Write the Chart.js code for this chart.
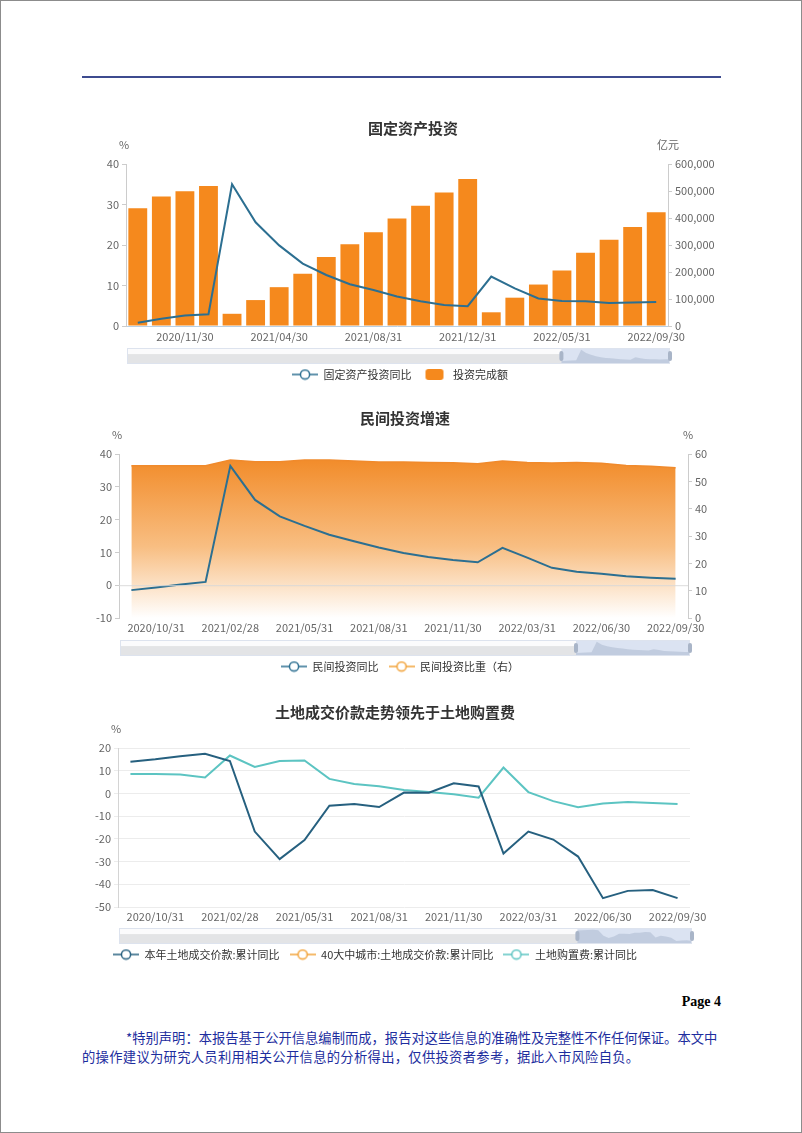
<!DOCTYPE html>
<html>
<head>
<meta charset="utf-8">
<script src="https://cdn.jsdelivr.net/npm/chart.js@4.4.1/dist/chart.umd.min.js"></script>
<style>
  html, body { margin: 0; padding: 0; background: #fff; }
  body { width: 802px; height: 1133px; position: relative; overflow: hidden; font-family: "Noto Sans CJK SC", sans-serif; }
  .frame { position: absolute; left: 0; top: 0; width: 800px; height: 1131px; border: 1px solid #8c8c8c; }
  .rule { position: absolute; left: 82px; top: 76px; width: 639px; height: 2px; background: #3d4b8f; }
  canvas { position: absolute; left: 60px; }
  .page { position: absolute; left: 600px; width: 121px; text-align: right; top: 994px; font: bold 14px "Liberation Serif", serif; color: #000; }
  .note { position: absolute; color: #1d2d9e; font-size: 13.3px; white-space: nowrap; line-height: 19px; }
</style>
</head>
<body>
<div class="frame"></div>
<div class="rule"></div>
<canvas id="c1" width="680" height="280" style="top:110px"></canvas>
<canvas id="c2" width="680" height="282" style="top:400px"></canvas>
<canvas id="c3" width="680" height="275" style="top:695px"></canvas>
<div class="page">Page 4</div>
<div class="note" style="left:126px; top:1028px;">*特别声明：本报告基于公开信息编制而成，报告对这些信息的准确性及完整性不作任何保证。本文中</div>
<div class="note" style="left:82px; top:1047px; letter-spacing:0.3px;">的操作建议为研究人员利用相关公开信息的分析得出，仅供投资者参考，据此入市风险自负。</div>
<script>
// month-end dates, same 23 periods for all three charts
const months = ["2020/09/30", "2020/10/31", "2020/11/30", "2020/12/31", "2021/02/28", "2021/03/31",
  "2021/04/30", "2021/05/31", "2021/06/30", "2021/07/31", "2021/08/31", "2021/09/30", "2021/10/31",
  "2021/11/30", "2021/12/31", "2022/02/28", "2022/03/31", "2022/04/30", "2022/05/31", "2022/06/30",
  "2022/07/31", "2022/08/31", "2022/09/30"];

// 固定资产投资
const faiYoY = [0.8, 1.8, 2.6, 2.9, 35.0, 25.6, 19.9, 15.4, 12.6, 10.3, 8.9, 7.3, 6.1, 5.2, 4.9,
  12.2, 9.3, 6.8, 6.2, 6.1, 5.7, 5.8, 5.9];
const faiAmount = [436530, 479922, 499012, 518907, 45236, 95994, 143804, 193917, 255900, 302823,
  346913, 397827, 445823, 494082, 544547, 50763, 104872, 153544, 205964, 271430, 319812, 367106, 421412];

// 民间投资增速
const privYoY = [-1.5, -0.7, 0.2, 1.0, 36.4, 26.0, 21.0, 18.1, 15.4, 13.4, 11.5, 9.8, 8.6, 7.7, 7.0,
  11.4, 8.4, 5.3, 4.1, 3.5, 2.7, 2.3, 2.0];
const privShare = [55.7, 55.7, 55.7, 55.7, 57.8, 57.2, 57.2, 57.8, 57.8, 57.4, 57.1, 57.1, 56.9, 56.8,
  56.4, 57.4, 56.9, 56.7, 56.9, 56.6, 55.8, 55.5, 55.0];

// 土地成交价款 / 土地购置费
const landDeal = [13.9, 15.0, 16.4, 17.5, 14.3, -16.8, -28.9, -20.5, -5.4, -4.7, -6.0, 0.4, 0.3, 4.5,
  3.1, -26.5, -16.8, -20.3, -27.8, -46.1, -42.9, -42.5, -46.1];
const landCity40 = [];
const landPurchase = [8.5, 8.6, 8.3, 7.0, 16.7, 11.7, 14.3, 14.5, 6.4, 4.2, 3.2, 1.5, 0.6, -0.4, -1.9,
  11.4, 0.6, -3.4, -6.1, -4.4, -3.8, -4.2, -4.7];

const ORANGE = "#f5891d";
const TEAL = "#2c6f91";
const TEAL_DARK = "#26607f";
const TEAL_LIGHT = "#5cc4c2";

Chart.defaults.font.family = '"Noto Sans CJK SC", "Noto Sans", sans-serif';
Chart.defaults.font.size = 11;
Chart.defaults.color = "#666";
Chart.defaults.animation = false;

function icon(color, kind) {
  const c = document.createElement("canvas");
  const g = c.getContext("2d");
  if (kind === "box") {
    c.width = 20; c.height = 13;
    g.fillStyle = color;
    g.beginPath();
    g.roundRect(1, 1, 18, 11, 3);
    g.fill();
  } else {
    c.width = 26; c.height = 12;
    g.strokeStyle = color;
    g.lineWidth = 1.5;
    g.beginPath(); g.moveTo(0, 6); g.lineTo(26, 6); g.stroke();
    g.fillStyle = "#fff";
    g.beginPath(); g.arc(13, 6, 4.6, 0, Math.PI * 2); g.fill(); g.stroke();
  }
  return c;
}

function legendWith(icons) {
  return {
    position: "bottom",
    labels: {
      usePointStyle: true,
      pointStyleWidth: 26,
      padding: 10,
      color: "#333",
      font: { size: 11 },
      generateLabels(chart) {
        return Chart.defaults.plugins.legend.labels.generateLabels(chart)
          .map((it, i) => ({ ...it, pointStyle: icons[i] }));
      }
    }
  };
}

// titles, axis units, dataZoom-like slider, zero line
const decor = {
  id: "decor",
  afterDatasetsDraw(chart, args, o) {
    if (!o.zeroLine) return;
    const { ctx, chartArea: a } = chart;
    const y = chart.scales.y.getPixelForValue(0);
    ctx.save();
    ctx.strokeStyle = "rgba(215,215,215,0.9)";
    ctx.lineWidth = 1;
    ctx.beginPath(); ctx.moveTo(a.left, y + 0.5); ctx.lineTo(a.right, y + 0.5); ctx.stroke();
    ctx.restore();
  },
  afterDraw(chart, args, o) {
    const { ctx, chartArea: a } = chart;
    ctx.save();
    ctx.fillStyle = "#333";
    ctx.font = 'bold 15px "Noto Sans CJK SC"';
    ctx.textAlign = "center";
    ctx.textBaseline = "middle";
    ctx.fillText(o.title, o.titleX, o.titleY);
    ctx.font = '11px "Noto Sans CJK SC"';
    ctx.fillStyle = "#666";
    if (o.unitL) ctx.fillText(o.unitL, a.left - 2, a.top - 19);
    if (o.unitR) ctx.fillText(o.unitR, a.right, a.top - 19);

    // slider
    const x0 = a.left + 1, x1 = a.right + 2, y0 = a.bottom + o.sliderGap, h = 16;
    const sx = x0 + (x1 - x0) * 0.8;
    ctx.fillStyle = "#fbfbfc";
    ctx.fillRect(x0, y0, x1 - x0, h);
    ctx.fillStyle = "#e3e4e6";
    ctx.fillRect(x0, y0 + h * 0.38, sx - x0, h * 0.62);
    const vals = chart.data.datasets[0].data;
    const lo = Math.min(...vals), hi = Math.max(...vals);
    ctx.beginPath();
    ctx.moveTo(sx, y0 + h);
    vals.forEach((v, i) => {
      const px = sx + (x1 - sx) * i / (vals.length - 1);
      const py = y0 + h - 3 - (v - lo) / (hi - lo) * h * 0.7;
      ctx.lineTo(px, py);
    });
    ctx.lineTo(x1, y0 + h);
    ctx.closePath();
    ctx.fillStyle = "rgba(150,160,178,0.35)";
    ctx.fill();
    ctx.fillStyle = "rgba(135,165,215,0.28)";
    ctx.fillRect(sx, y0, x1 - sx, h);
    ctx.strokeStyle = "#dde3ee";
    ctx.lineWidth = 1;
    ctx.strokeRect(x0 + 0.5, y0 + 0.5, x1 - x0 - 1, h - 1);
    ctx.fillStyle = "#a9b5c8";
    [sx, x1].forEach(hx => {
      ctx.beginPath(); ctx.roundRect(hx - 2, y0 + 3, 4, h - 6, 2); ctx.fill();
    });
    ctx.restore();
  }
};

function xAxis(step, first, height, pad, opts) {
  return Object.assign({
    offset: true,
    grid: { display: false, drawTicks: false },
    border: { display: false },
    ticks: {
      autoSkip: false, maxRotation: 0, padding: pad, color: "#666",
      callback: (v, i) => (i % step === first ? months[i] : "")
    },
    afterFit: (s) => { s.height = height; }
  }, opts || {});
}

function yAxis(pos, min, max, step, width, extra) {
  return Object.assign({
    position: pos, min: min, max: max,
    ticks: { stepSize: step, padding: 3, color: "#666" },
    grid: { drawOnChartArea: false, drawTicks: true, tickLength: 4, color: "#ccc" },
    border: { display: true, color: "#ccc" },
    afterFit: (s) => { s.width = width; }
  }, extra || {});
}

// chart 1
new Chart(document.getElementById("c1"), {
  type: "bar",
  data: {
    labels: months,
    datasets: [
      { type: "line", label: "固定资产投资同比", data: faiYoY, yAxisID: "y", borderColor: TEAL,
        borderWidth: 2, pointRadius: 0, tension: 0 },
      { label: "投资完成额", data: faiAmount, yAxisID: "y1", backgroundColor: ORANGE,
        barPercentage: 0.8, categoryPercentage: 1 }
    ]
  },
  options: {
    responsive: false,
    layout: { padding: { top: 54, left: 0, right: 0 } },
    scales: {
      x: xAxis(4, 2, 33, 4, { border: { display: true, color: "#b9d0e4" } }),
      y: yAxis("left", 0, 40, 10, 66),
      y1: yAxis("right", 0, 600000, 100000, 72, {
        ticks: { stepSize: 100000, padding: 3, color: "#666",
          callback: (v) => v.toLocaleString("en-US") }
      })
    },
    plugins: {
      legend: legendWith([icon(TEAL, "line"), icon(ORANGE, "box")]),
      tooltip: { enabled: false },
      decor: { title: "固定资产投资", titleX: 353, titleY: 18, unitL: "%", unitR: "亿元", sliderGap: 22 }
    }
  },
  plugins: [decor]
});

// chart 2
new Chart(document.getElementById("c2"), {
  type: "line",
  data: {
    labels: months,
    datasets: [
      { label: "民间投资同比", data: privYoY, yAxisID: "y", borderColor: TEAL, borderWidth: 2,
        pointRadius: 0, tension: 0 },
      { label: "民间投资比重（右）", data: privShare, yAxisID: "y1", borderColor: "#f08a2c",
        borderWidth: 1.5, pointRadius: 0, tension: 0, fill: "start",
        backgroundColor: (ctx) => {
          const a = ctx.chart.chartArea;
          if (!a) return "rgba(243,145,50,0.6)";
          const top = ctx.chart.scales.y1.getPixelForValue(58);
          const g = ctx.chart.ctx.createLinearGradient(0, top, 0, a.bottom);
          g.addColorStop(0, "rgba(242,140,42,1)");
          g.addColorStop(0.55, "rgba(248,190,130,1)");
          g.addColorStop(1, "rgba(255,255,255,1)");
          return g;
        } }
    ]
  },
  options: {
    responsive: false,
    layout: { padding: { top: 54, left: 0, right: 0 } },
    scales: {
      x: xAxis(3, 1, 33, 3),
      y: yAxis("left", -10, 40, 10, 59),
      y1: yAxis("right", 0, 60, 10, 52)
    },
    plugins: {
      legend: legendWith([icon(TEAL, "line"), icon("#f2a33a", "line")]),
      tooltip: { enabled: false },
      decor: { title: "民间投资增速", titleX: 345, titleY: 18, unitL: "%", unitR: "%", sliderGap: 22, zeroLine: true }
    }
  },
  plugins: [decor]
});

// chart 3
new Chart(document.getElementById("c3"), {
  type: "line",
  data: {
    labels: months,
    datasets: [
      { label: "本年土地成交价款:累计同比", data: landDeal, borderColor: TEAL_DARK, borderWidth: 2,
        pointRadius: 0, tension: 0 },
      { label: "40大中城市:土地成交价款:累计同比", data: landCity40, borderColor: "#f2a33a",
        borderWidth: 2, pointRadius: 0 },
      { label: "土地购置费:累计同比", data: landPurchase, borderColor: TEAL_LIGHT, borderWidth: 2,
        pointRadius: 0, tension: 0 }
    ]
  },
  options: {
    responsive: false,
    layout: { padding: { top: 53, left: 0, right: 50 } },
    scales: {
      x: xAxis(3, 1, 32, 3),
      y: yAxis("left", -50, 20, 10, 58, {
        grid: { drawOnChartArea: true, drawTicks: true, tickLength: 4, color: "#ececec" },
        border: { display: true, color: "#d4d4d4" }
      })
    },
    plugins: {
      legend: legendWith([icon(TEAL_DARK, "line"), icon("#f2a33a", "line"), icon(TEAL_LIGHT, "line")]),
      tooltip: { enabled: false },
      decor: { title: "土地成交价款走势领先于土地购置费", titleX: 335, titleY: 17, unitL: "%", sliderGap: 21 }
    }
  },
  plugins: [decor]
});
</script>
</body>
</html>
